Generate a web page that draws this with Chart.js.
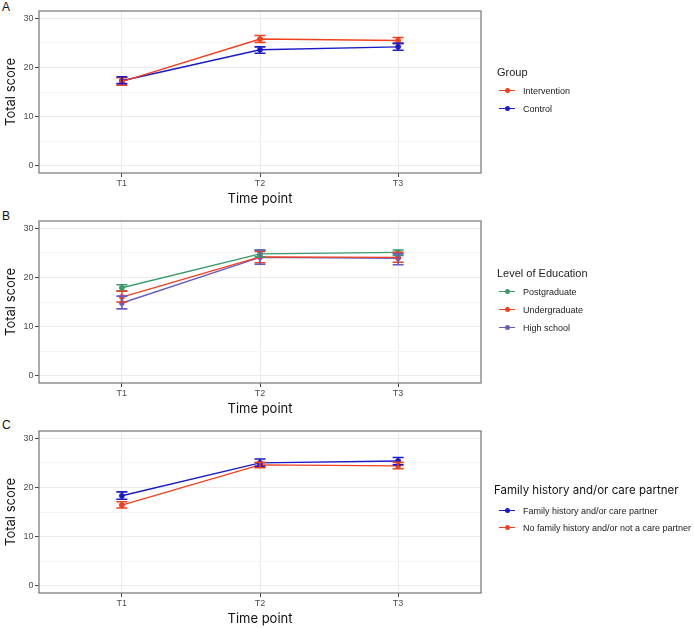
<!DOCTYPE html>
<html>
<head>
<meta charset="utf-8">
<script src="https://cdn.jsdelivr.net/npm/chart.js@4.4.1/dist/chart.umd.min.js"></script>
<style>
    body { margin: 0; background: #fff; width: 694px; height: 628px; position: relative; overflow: hidden; font-family: "Liberation Sans", Arial, sans-serif; }
    canvas { position: absolute; left: 0; }
    .tag { position: absolute; left: 2px; font-size: 12px; line-height: 12px; color: #111; }
    .legend { position: absolute; left: 497px; color: #222; }
    .legend .ttl { font-size: 11px; line-height: 14px; margin-bottom: 3px; white-space: nowrap; }
    .legend .item { display: flex; align-items: center; height: 18px; font-size: 9px; white-space: nowrap; }
    .legend .key { position: relative; width: 16px; height: 10px; margin: 0 8px 0 2px; }
    .legend .key .ln { position: absolute; left: 0; right: 0; top: 4px; height: 1.4px; }
    .legend .key .dt { position: absolute; left: 5.5px; top: 2.2px; width: 5px; height: 5px; border-radius: 50%; }
    #legC { left: 494px; }
    #legC .ttl { font-family: Inter, sans-serif; font-size: 11.5px; line-height: 16px; color: #111; margin-bottom: 4px; }
    #legC .item { height: 17px; }
    #legC .key { margin-left: 5px; }
</style>
</head>
<body>
<div class="tag" style="top:1px">A</div>
<div class="tag" style="top:210px">B</div>
<div class="tag" style="top:419px">C</div>
<canvas id="chartA" width="694" height="210" style="top:0px"></canvas>
<canvas id="chartB" width="694" height="210" style="top:210px"></canvas>
<canvas id="chartC" width="694" height="210" style="top:420px"></canvas>
<div class="legend" id="legA" style="top:65px"></div>
<div class="legend" id="legB" style="top:266px"></div>
<div class="legend" id="legC" style="top:482px"></div>
<script>
// Shared axis values
const timePoints = ['T1', 'T2', 'T3'];
const yTicks = [0, 10, 20, 30];

// Panel A - Group
const groupTitle = 'Group';
const groupNames = ['Intervention', 'Control'];
const interventionMean = [17.1, 25.8, 25.5];
const interventionLow = [16.4, 25.1, 24.9];
const interventionHigh = [17.9, 26.5, 26.1];
const controlMean = [17.3, 23.6, 24.2];
const controlLow = [16.7, 22.9, 23.5];
const controlHigh = [18.1, 24.2, 24.9];

// Panel B - Level of Education
const educationTitle = 'Level of Education';
const educationNames = ['Postgraduate', 'Undergraduate', 'High school'];
const postgradMean = [17.9, 24.8, 25.1];
const postgradLow = [17.3, 24.2, 24.5];
const postgradHigh = [18.5, 25.6, 25.6];
const undergradMean = [16.0, 24.2, 24.1];
const undergradLow = [15.0, 23.0, 23.1];
const undergradHigh = [17.2, 25.3, 25.1];
const highSchoolMean = [14.8, 24.1, 23.9];
const highSchoolLow = [13.6, 22.7, 22.6];
const highSchoolHigh = [16.2, 25.6, 24.8];

// Panel C - Family history
const familyTitle = 'Family history and/or care partner';
const familyNames = ['Family history and/or care partner', 'No family history and/or not a care partner'];
const familyMean = [18.3, 25.0, 25.4];
const familyLow = [17.6, 24.3, 24.6];
const familyHigh = [19.1, 25.8, 26.1];
const noFamilyMean = [16.4, 24.6, 24.4];
const noFamilyLow = [15.8, 24.0, 23.8];
const noFamilyHigh = [17.1, 25.1, 25.1];

// Colours
const red = '#F2401F';
const blue = '#1A1AC8';
const green = '#3A9A6C';
const purple = '#6A5BC4';

const errorBars = {
    id: 'errorBars',
    afterDatasetsDraw(chart) {
        const { ctx, scales: { x, y } } = chart;
        chart.data.datasets.forEach(ds => {
            ctx.save();
            ctx.strokeStyle = ds.borderColor;
            ctx.lineWidth = 1.6;
            ds.low.forEach((lo, i) => {
                const px = x.getPixelForValue(i);
                const pLo = y.getPixelForValue(lo);
                const pHi = y.getPixelForValue(ds.high[i]);
                ctx.beginPath();
                ctx.moveTo(px, pLo); ctx.lineTo(px, pHi);
                ctx.moveTo(px - 5.5, pLo); ctx.lineTo(px + 5.5, pLo);
                ctx.moveTo(px - 5.5, pHi); ctx.lineTo(px + 5.5, pHi);
                ctx.stroke();
            });
            ctx.restore();
        });
    }
};

const panelBorder = {
    id: 'panelBorder',
    afterDraw(chart) {
        const { ctx, chartArea: a } = chart;
        ctx.save();
        ctx.strokeStyle = '#888';
        ctx.lineWidth = 1.4;
        ctx.strokeRect(a.left, a.top, a.right - a.left, a.bottom - a.top);
        ctx.restore();
    }
};

function makeChart(id, series) {
    new Chart(document.getElementById(id), {
        type: 'line',
        data: {
            datasets: series.map(s => ({
                label: s.name,
                data: s.mean.map((v, i) => ({ x: i, y: v })),
                low: s.low,
                high: s.high,
                borderColor: s.color,
                backgroundColor: s.color,
                borderWidth: 1.4,
                pointRadius: 2.8,
                pointBorderWidth: 0,
                tension: 0
            }))
        },
        options: {
            responsive: false,
            animation: false,
            events: [],
            layout: { padding: { top: 11, right: 213, bottom: 0, left: 0 } },
            plugins: { legend: { display: false }, tooltip: { enabled: false } },
            scales: {
                x: {
                    type: 'linear',
                    min: -0.6,
                    max: 2.6,
                    afterBuildTicks: s => { s.ticks = timePoints.map((_, i) => ({ value: i })); },
                    afterFit: s => { s.height = 37; },
                    grid: { color: '#EBEBEB', lineWidth: 1, tickLength: 4, tickColor: '#444' },
                    border: { display: false },
                    ticks: {
                        callback: v => timePoints[v],
                        color: '#4D4D4D',
                        padding: 1,
                        maxRotation: 0,
                        font: { family: 'Liberation Sans', size: 9 }
                    },
                    title: {
                        display: true,
                        text: 'Time point',
                        color: '#111',
                        padding: { top: 0, bottom: 3 },
                        font: { family: 'Inter', size: 13 }
                    }
                },
                y: {
                    min: -1.5,
                    max: 31.5,
                    afterBuildTicks: s => {
                        const t = [];
                        for (let v = 0; v <= 30; v += 5) t.push({ value: v });
                        s.ticks = t;
                    },
                    afterFit: s => { s.width = 39; },
                    grid: {
                        color: c => (yTicks.includes(c.tick.value) ? '#EBEBEB' : '#F4F4F4'),
                        lineWidth: 1,
                        tickLength: 4,
                        tickColor: c => (yTicks.includes(c.tick.value) ? '#444' : 'rgba(0,0,0,0)')
                    },
                    border: { display: false },
                    ticks: {
                        callback: v => (yTicks.includes(v) ? v : ''),
                        color: '#4D4D4D',
                        padding: 1.5,
                        font: { family: 'Liberation Sans', size: 9 }
                    },
                    title: {
                        display: true,
                        text: 'Total score',
                        color: '#111',
                        padding: { top: 3, bottom: 0 },
                        font: { family: 'Inter', size: 13 }
                    }
                }
            }
        },
        plugins: [errorBars, panelBorder]
    });
}

function makeLegend(id, title, series) {
    const el = document.getElementById(id);
    let html = `<div class="ttl">${title}</div>`;
    series.forEach(s => {
        html += `<div class="item"><span class="key"><span class="ln" style="background:${s.color}"></span><span class="dt" style="background:${s.color}"></span></span>${s.name}</div>`;
    });
    el.innerHTML = html;
}

const seriesA = [
    { name: groupNames[0], color: red, mean: interventionMean, low: interventionLow, high: interventionHigh },
    { name: groupNames[1], color: blue, mean: controlMean, low: controlLow, high: controlHigh }
];
const seriesB = [
    { name: educationNames[0], color: green, mean: postgradMean, low: postgradLow, high: postgradHigh },
    { name: educationNames[1], color: red, mean: undergradMean, low: undergradLow, high: undergradHigh },
    { name: educationNames[2], color: purple, mean: highSchoolMean, low: highSchoolLow, high: highSchoolHigh }
];
const seriesC = [
    { name: familyNames[0], color: blue, mean: familyMean, low: familyLow, high: familyHigh },
    { name: familyNames[1], color: red, mean: noFamilyMean, low: noFamilyLow, high: noFamilyHigh }
];

makeChart('chartA', seriesA);
makeChart('chartB', seriesB);
makeChart('chartC', seriesC);
makeLegend('legA', groupTitle, seriesA);
makeLegend('legB', educationTitle, seriesB);
makeLegend('legC', familyTitle, seriesC);
</script>
</body>
</html>
